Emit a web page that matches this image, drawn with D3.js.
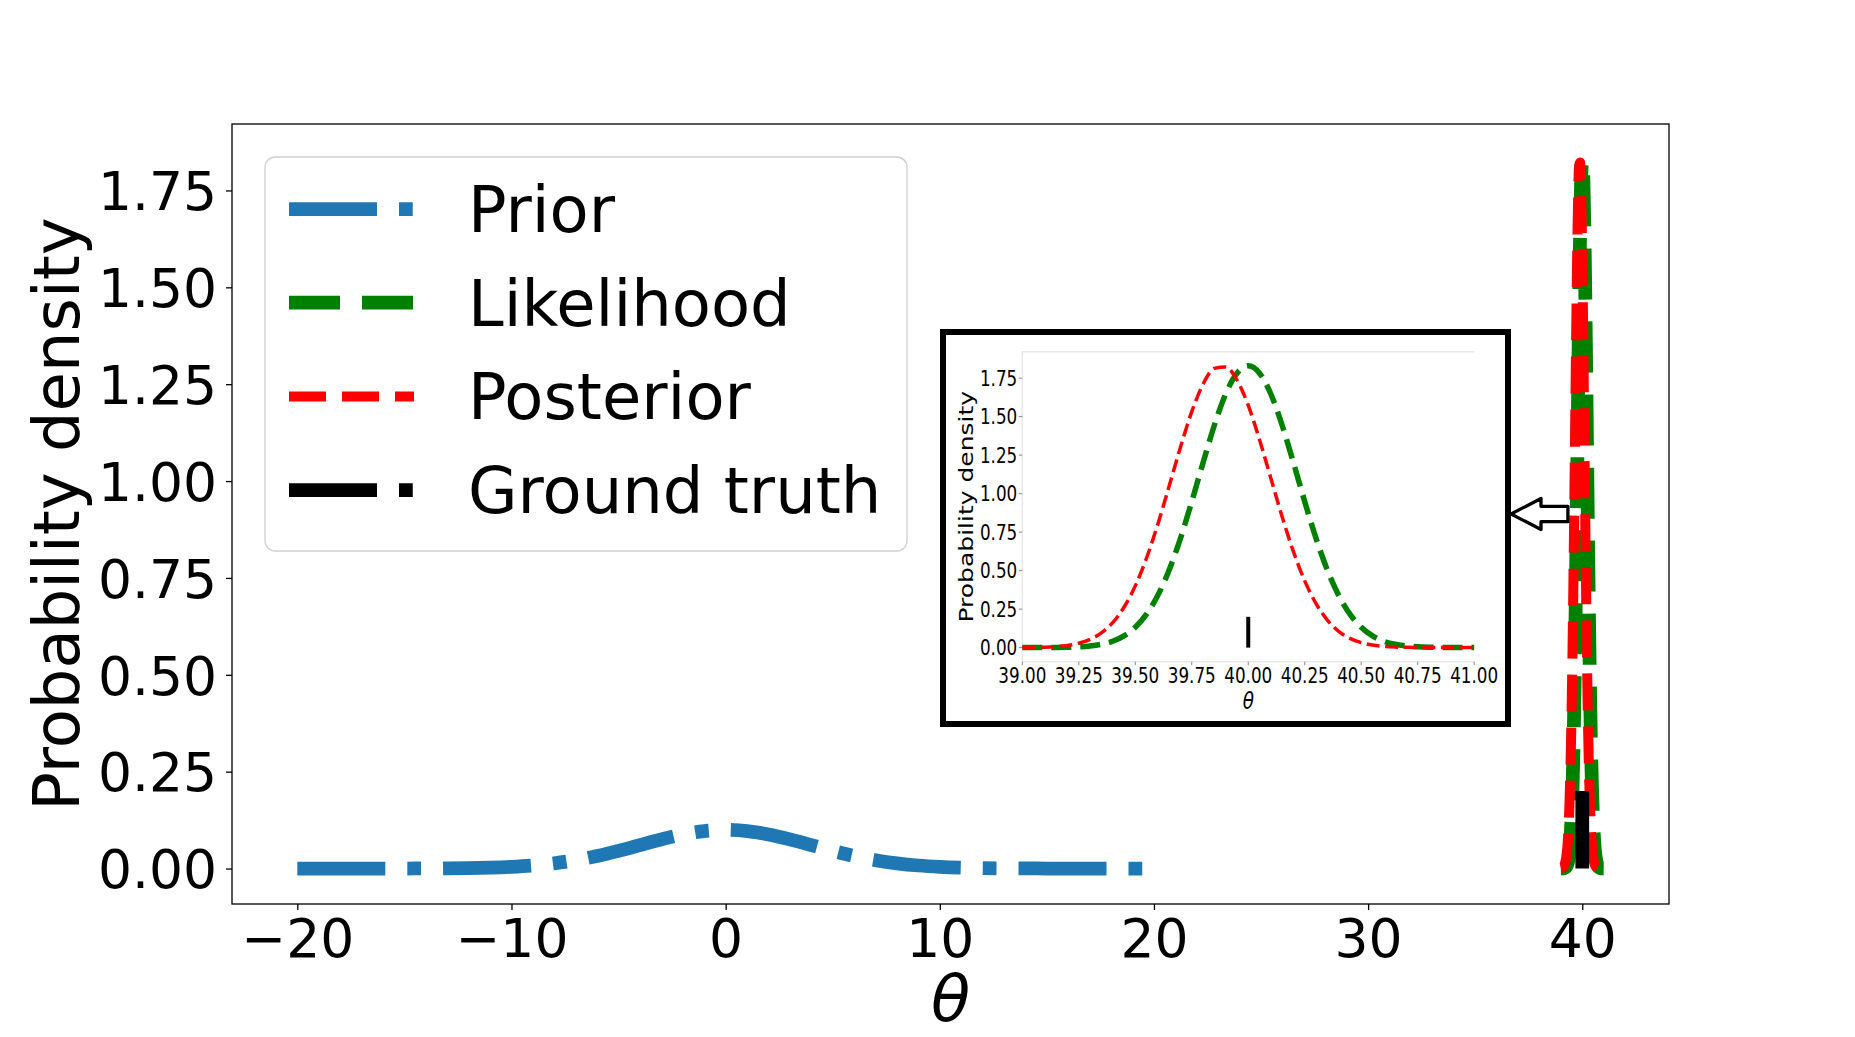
<!DOCTYPE html>
<html>
<head>
<meta charset="utf-8">
<script src="https://cdn.jsdelivr.net/npm/d3@7"></script>
<style>
  body { margin: 0; background: #fff; }
  text { font-family: "DejaVu Sans", sans-serif; fill: #000; }
</style>
</head>
<body>
<svg id="chart" width="1855" height="1037"></svg>
<script>
// values
const priorTheta = [-20, -19, -18, -17, -16, -15, -14, -13, -12, -11, -10, -9, -8, -7, -6, -5, -4, -3, -2, -1,
                    0, 1, 2, 3, 4, 5, 6, 7, 8, 9, 10, 11, 12, 13, 14, 15, 16, 17, 18, 19, 20];
const priorDensity = [0.0000, 0.0000, 0.0000, 0.0000, 0.0000, 0.0001, 0.0002, 0.0005, 0.0011, 0.0023,
                      0.0044, 0.0079, 0.0135, 0.0216, 0.0324, 0.0457, 0.0605, 0.0753, 0.0880, 0.0967,
                      0.0997,
                      0.0967, 0.0880, 0.0753, 0.0605, 0.0457, 0.0324, 0.0216, 0.0135, 0.0079, 0.0044,
                      0.0023, 0.0011, 0.0005, 0.0002, 0.0001, 0.0000, 0.0000, 0.0000, 0.0000, 0.0000];

const zoomTheta = [39.00, 39.05, 39.10, 39.15, 39.20, 39.25, 39.30, 39.35, 39.40, 39.45,
                   39.50, 39.55, 39.60, 39.65, 39.70, 39.75, 39.80, 39.85, 39.90, 39.95,
                   40.00, 40.05, 40.10, 40.15, 40.20, 40.25, 40.30, 40.35, 40.40, 40.45,
                   40.50, 40.55, 40.60, 40.65, 40.70, 40.75, 40.80, 40.85, 40.90, 40.95, 41.00];
const likelihoodDensity = [0.0000, 0.0001, 0.0004, 0.0009, 0.0022, 0.0049, 0.0106, 0.0215, 0.041, 0.076,
                           0.132, 0.217, 0.340, 0.504, 0.710, 0.948, 1.201, 1.444, 1.647, 1.782,
                           1.830,
                           1.782, 1.647, 1.444, 1.201, 0.948, 0.710, 0.504, 0.340, 0.217, 0.132,
                           0.076, 0.041, 0.0215, 0.0106, 0.0049, 0.0022, 0.0009, 0.0004, 0.0001, 0.0000];
const posteriorDensity = [0.0005, 0.0013, 0.0030, 0.0067, 0.0141, 0.0281, 0.0531, 0.0953, 0.162, 0.262,
                          0.401, 0.582, 0.802, 1.049, 1.301, 1.532, 1.711, 1.813, 1.822, 1.738,
                          1.573, 1.350, 1.100, 0.850, 0.623, 0.433, 0.286, 0.179, 0.106, 0.060,
                          0.032, 0.0163, 0.0078, 0.0036, 0.0016, 0.0006, 0.0003, 0.0001, 0.0000, 0.0000, 0.0000];

const truthTheta = [40, 40];
const truthDensity = [0, 0.2];

const xTickValues = [-20, -10, 0, 10, 20, 30, 40];
const yTickValues = [0, 0.25, 0.5, 0.75, 1, 1.25, 1.5, 1.75];
const insetXTickValues = [39, 39.25, 39.5, 39.75, 40, 40.25, 40.5, 40.75, 41];
const legendLabels = ["Prior", "Likelihood", "Posterior", "Ground truth"];

// arrow tail sits just left of the spike
const arrowTail = {theta: 39.33, density: 0.915};

const zip = (a, b) => a.map((v, i) => [v, b[i]]);

const series = [
    {label: legendLabels[0], pts: zip(priorTheta, priorDensity), color: "#1f77b4", lw: 13.75, dash: "88,22,13.75,22", inset: false},
    {label: legendLabels[1], pts: zip(zoomTheta, likelihoodDensity), color: "#008000", lw: 13.75, dash: "51,22", inset: true, ilw: 5.5, idash: "20,9"},
    {label: legendLabels[2], pts: zip(zoomTheta, posteriorDensity), color: "#ff0000", lw: 10, dash: "37,16", inset: true, ilw: 3.5, idash: "13,5.6"},
    {label: legendLabels[3], pts: zip(truthTheta, truthDensity), color: "#000000", lw: 13.75, dash: "88,22,13.75,22", inset: true, ilw: 4, idash: null, straight: true}
];

const svg = d3.select("#chart");
const plot = {left: 232, right: 1669, top: 124, bottom: 904};

const allTheta = priorTheta.concat(zoomTheta, truthTheta);
const allDensity = priorDensity.concat(likelihoodDensity, posteriorDensity, truthDensity);
const [tx0, tx1] = d3.extent(allTheta);
const [ty0, ty1] = d3.extent(allDensity);
const padX = (tx1 - tx0) * 0.05, padY = (ty1 - ty0) * 0.05;

const x = d3.scaleLinear().domain([tx0 - padX, tx1 + padX]).range([plot.left, plot.right]);
const y = d3.scaleLinear().domain([ty0 - padY, ty1 + padY]).range([plot.bottom, plot.top]);

// axes
const xAxis = svg.append("g").attr("transform", `translate(0,${plot.bottom})`)
    .call(d3.axisBottom(x).tickValues(xTickValues).tickSize(6).tickSizeOuter(0).tickPadding(9));
const yAxis = svg.append("g").attr("transform", `translate(${plot.left},0)`)
    .call(d3.axisLeft(y).tickValues(yTickValues).tickFormat(d3.format(".2f")).tickSize(6).tickSizeOuter(0).tickPadding(9));

[xAxis, yAxis].forEach(a => {
    a.select(".domain").remove();
    a.selectAll(".tick line").attr("stroke", "#000").attr("stroke-width", 1.3);
    a.selectAll(".tick text").style("font-family", "DejaVu Sans").style("font-size", "53.5px").attr("fill", "#000");
});
yAxis.selectAll(".tick text").attr("dy", "0.36em");

svg.append("rect")
    .attr("x", plot.left).attr("y", plot.top)
    .attr("width", plot.right - plot.left).attr("height", plot.bottom - plot.top)
    .attr("fill", "none").attr("stroke", "#000").attr("stroke-width", 1.3);

svg.append("text")
    .attr("transform", `translate(79,${(plot.top + plot.bottom) / 2}) rotate(-90)`)
    .attr("text-anchor", "middle").style("font-size", "64px")
    .text("Probability density");

svg.append("text")
    .attr("x", (plot.left + plot.right) / 2).attr("y", 1021)
    .attr("text-anchor", "middle").style("font-size", "64px").style("font-style", "italic")
    .text("θ");

// main curves
const curveLine = d3.line().x(d => x(d[0])).y(d => y(d[1])).curve(d3.curveMonotoneX);
const straightLine = d3.line().x(d => x(d[0])).y(d => y(d[1]));

svg.append("g").selectAll("path.main").data(series).join("path").attr("class", "main")
    .attr("d", d => d.straight ? straightLine(d.pts) : curveLine(d.pts))
    .attr("fill", "none")
    .attr("stroke", d => d.color)
    .attr("stroke-width", d => d.lw)
    .attr("stroke-dasharray", d => d.dash);

// legend
const legend = svg.append("g");
legend.append("rect")
    .attr("x", 265).attr("y", 157).attr("width", 642).attr("height", 394)
    .attr("rx", 10).attr("ry", 10)
    .attr("fill", "#fff").attr("fill-opacity", 0.8)
    .attr("stroke", "#d0d0d0").attr("stroke-width", 1.3);

const rows = legend.selectAll("g.row").data(series).join("g").attr("class", "row")
    .attr("transform", (d, i) => `translate(0,${209 + i * 93.7})`);
rows.append("line")
    .attr("x1", 289).attr("x2", 414)
    .attr("stroke", d => d.color).attr("stroke-width", d => d.lw)
    .attr("stroke-dasharray", d => d.dash);
rows.append("text")
    .attr("x", 468).attr("y", 23)
    .style("font-size", "64px")
    .text(d => d.label);

// inset box with zoomed view
const box = {left: 940, right: 1511, top: 329, bottom: 727, border: 6};
const inner = {left: 1022.3, right: 1474.2, top: 351.7, bottom: 661.7};
const squeeze = 0.8;

svg.append("rect")
    .attr("x", box.left + box.border / 2).attr("y", box.top + box.border / 2)
    .attr("width", box.right - box.left - box.border).attr("height", box.bottom - box.top - box.border)
    .attr("fill", "#fff").attr("stroke", "#000").attr("stroke-width", box.border);

const ix = d3.scaleLinear().domain([insetXTickValues[0], insetXTickValues[insetXTickValues.length - 1]]).range([inner.left, inner.right]);
const iy = d3.scaleLinear().domain(y.domain()).range([inner.bottom, inner.top]);

const inset = svg.append("g");
inset.append("path")
    .attr("d", `M${inner.left},${inner.bottom} L${inner.left},${inner.top} L${inner.right},${inner.top} M${inner.left},${inner.bottom} L${inner.right},${inner.bottom}`)
    .attr("fill", "none").attr("stroke", "#e8e8e8").attr("stroke-width", 1.5);

inset.selectAll("line.iyt").data(yTickValues).join("line").attr("class", "iyt")
    .attr("x1", inner.left - 3.5).attr("x2", inner.left)
    .attr("y1", d => iy(d)).attr("y2", d => iy(d))
    .attr("stroke", "#888").attr("stroke-width", 1);
inset.selectAll("text.iyt").data(yTickValues).join("text").attr("class", "iyt")
    .attr("transform", d => `translate(1017.3,${iy(d) + 0.36 * 21}) scale(${squeeze},1)`)
    .attr("text-anchor", "end").style("font-size", "21px")
    .text(d3.format(".2f"));

inset.selectAll("line.ixt").data(insetXTickValues).join("line").attr("class", "ixt")
    .attr("x1", d => ix(d)).attr("x2", d => ix(d))
    .attr("y1", inner.bottom).attr("y2", inner.bottom + 3.5)
    .attr("stroke", "#888").attr("stroke-width", 1);
inset.selectAll("text.ixt").data(insetXTickValues).join("text").attr("class", "ixt")
    .attr("transform", d => `translate(${ix(d)},683) scale(${squeeze},1)`)
    .attr("text-anchor", "middle").style("font-size", "21px")
    .text(d3.format(".2f"));

inset.append("text")
    .attr("transform", `translate(973,${(inner.top + inner.bottom) / 2}) scale(${squeeze},1) rotate(-90)`)
    .attr("text-anchor", "middle").style("font-size", "25px")
    .text("Probability density");
inset.append("text")
    .attr("transform", `translate(${(inner.left + inner.right) / 2},709) scale(${squeeze},1)`)
    .attr("text-anchor", "middle").style("font-size", "23px").style("font-style", "italic")
    .text("θ");

const iCurve = d3.line().x(d => ix(d[0])).y(d => iy(d[1])).curve(d3.curveMonotoneX);
const iStraight = d3.line().x(d => ix(d[0])).y(d => iy(d[1]));
inset.selectAll("path.iline").data(series.filter(s => s.inset)).join("path").attr("class", "iline")
    .attr("d", d => d.straight ? iStraight(d.pts) : iCurve(d.pts))
    .attr("fill", "none")
    .attr("stroke", d => d.color)
    .attr("stroke-width", d => d.ilw)
    .attr("stroke-dasharray", d => d.idash);

// hollow arrow from the spike to the inset
const tailX = x(arrowTail.theta), tailY = y(arrowTail.density);
const tipX = box.right, head = 30, headH = 15.5, shaftH = 7.7;
svg.append("path")
    .attr("d", `M${tipX},${tailY} L${tipX + head},${tailY - headH} L${tipX + head},${tailY - shaftH}
                L${tailX},${tailY - shaftH} L${tailX},${tailY + shaftH} L${tipX + head},${tailY + shaftH}
                L${tipX + head},${tailY + headH} Z`)
    .attr("fill", "#fff").attr("stroke", "#000").attr("stroke-width", 3.3)
    .attr("stroke-linejoin", "round");
</script>
</body>
</html>
